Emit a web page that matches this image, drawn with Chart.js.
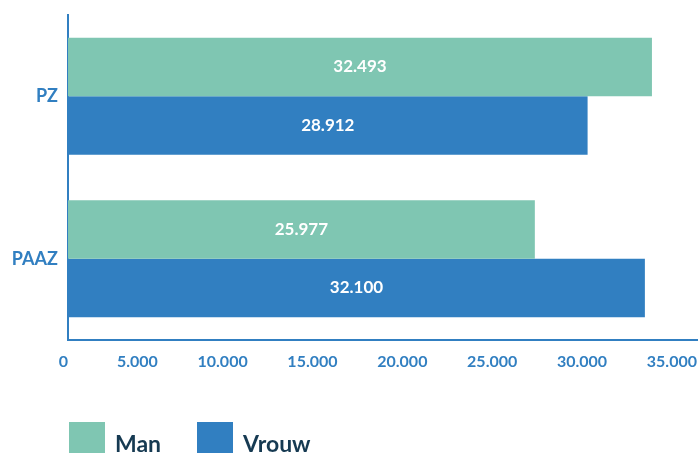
<!DOCTYPE html>
<html>
<head>
<meta charset="utf-8">
<script src="https://cdn.jsdelivr.net/npm/chart.js@4"></script>
<style>
  html, body { margin: 0; padding: 0; background: #fff; overflow: hidden; }
  #wrap { position: relative; width: 698px; height: 453px; overflow: hidden; }
  #legend { position: absolute; left: 69px; top: 422px; font-family: Lato, sans-serif; font-weight: bold; font-size: 23px; color: #163a52; }
  .item { position: absolute; top: 0; white-space: nowrap; }
  .box { position: absolute; top: 0; width: 36px; height: 36px; }
  .lbl { position: absolute; top: 7px; }
</style>
</head>
<body>
<div id="wrap">
  <canvas id="chart" width="698" height="453"></canvas>
  <div id="legend"></div>
</div>
<script>
const categories = ['PZ', 'PAAZ'];
const seriesNames = ['Man', 'Vrouw'];
const manValues = [32493, 25977];
const vrouwValues = [28912, 32100];
const xTicks = [0, 5000, 10000, 15000, 20000, 25000, 30000, 35000];

const colors = ['#7fc6b2', '#317fc1'];
const blue = '#317fc1';

function fmt(v) {
  return String(v).replace(/\B(?=(\d{3})+(?!\d))/g, '.');
}

// white value labels in the middle of each bar
const barLabels = {
  id: 'barLabels',
  afterDatasetsDraw(chart) {
    const ctx = chart.ctx;
    ctx.save();
    ctx.fillStyle = '#fff';
    ctx.font = 'bold 17px Lato, sans-serif';
    ctx.textAlign = 'center';
    ctx.textBaseline = 'middle';
    chart.data.datasets.forEach((ds, i) => {
      chart.getDatasetMeta(i).data.forEach((bar, j) => {
        ctx.fillText(fmt(ds.data[j]), (bar.x + bar.base) / 2, bar.y);
      });
    });
    ctx.restore();
  }
};

new Chart(document.getElementById('chart'), {
  type: 'bar',
  data: {
    labels: categories,
    datasets: [
      { label: seriesNames[0], data: manValues, backgroundColor: colors[0] },
      { label: seriesNames[1], data: vrouwValues, backgroundColor: colors[1] }
    ]
  },
  options: {
    indexAxis: 'y',
    responsive: false,
    animation: false,
    layout: { padding: { top: 15, right: 1, bottom: 73, left: 0 } },
    datasets: { bar: { categoryPercentage: 0.72, barPercentage: 1.0 } },
    plugins: { legend: { display: false }, tooltip: { enabled: false } },
    scales: {
      x: {
        min: 0,
        max: 35000,
        afterBuildTicks: (scale) => { scale.ticks = xTicks.map(v => ({ value: v })); },
        afterFit: (scale) => {
          scale.height = 40;
          scale.paddingLeft = 0;
          scale.paddingRight = 0;
        },
        grid: { display: false, drawTicks: false },
        border: { display: true, color: blue, width: 2 },
        ticks: {
          align: 'end',
          padding: 12,
          color: blue,
          font: { family: 'Lato', weight: 'bold', size: 16 },
          callback: (v) => fmt(v)
        }
      },
      y: {
        afterFit: (scale) => {
          scale.width = 68;
          scale.paddingTop = 0;
          scale.paddingBottom = 0;
        },
        grid: { display: false, drawTicks: false },
        border: { display: true, color: blue, width: 2 },
        ticks: {
          padding: 10,
          color: blue,
          font: { family: 'Lato', weight: 'bold', size: 18 }
        }
      }
    }
  },
  plugins: [barLabels]
});

// legend
const legend = document.getElementById('legend');
const offsets = [0, 128];
seriesNames.forEach((name, i) => {
  const item = document.createElement('div');
  item.className = 'item';
  item.style.left = offsets[i] + 'px';
  item.innerHTML = '<div class="box" style="background:' + colors[i] + '"></div><div class="lbl" style="left:46px">' + name + '</div>';
  legend.appendChild(item);
});
</script>
</body>
</html>
